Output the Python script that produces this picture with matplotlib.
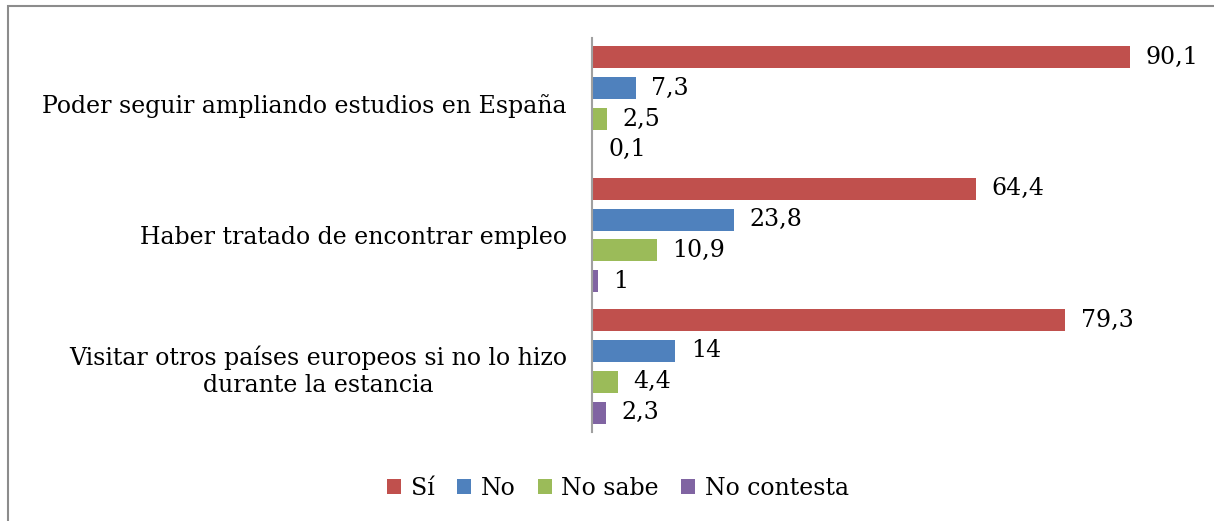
import matplotlib.pyplot as plt
from matplotlib.patches import Rectangle
import numpy as np

# data
categories = ["Poder seguir ampliando estudios en España",
              "Haber tratado de encontrar empleo",
              "Visitar otros países europeos si no lo hizo\ndurante la estancia"]
series = ["Sí", "No", "No sabe", "No contesta"]
si = [90.1, 64.4, 79.3]
no = [7.3, 23.8, 14]
no_sabe = [2.5, 10.9, 4.4]
no_contesta = [0.1, 1, 2.3]
colors = ["#C0504D", "#4F81BD", "#9BBB59", "#8064A2"]

plt.rcParams['font.family'] = ['DejaVu Serif']

fig = plt.figure(figsize=(12.14, 5.21), dpi=100)
ax = fig.add_axes([0.4876, 0.171, 0.4916, 0.756])

values = [si, no, no_sabe, no_contesta]
pitch = 0.235
height = 0.168
y = np.arange(len(categories))

def fmt(v):
    s = "{:g}".format(v)
    return s.replace(".", ",")

for i, (name, vals, c) in enumerate(zip(series, values, colors)):
    pos = y + (i - 1.5) * pitch
    ax.barh(pos, vals, height=height, color=c, label=name)
    for p, v in zip(pos, vals):
        ax.text(v + 2.6, p, fmt(v), va="center", ha="left", fontsize=17)

ax.set_xlim(0, 100)
ax.set_ylim(2.5, -0.5)
ax.set_yticks(y)
ax.set_yticklabels(categories, fontsize=17, multialignment="center",
                   linespacing=1.25)
ax.tick_params(axis="y", length=0, pad=18)
ax.set_xticks([])
for s in ["top", "right", "bottom"]:
    ax.spines[s].set_visible(False)
ax.spines["left"].set_color("#A0A0A0")
ax.spines["left"].set_linewidth(1.5)

fig.legend(loc="center", bbox_to_anchor=(0.509, 0.063), ncol=4, frameon=False,
           fontsize=17, handlelength=0.6, handleheight=0.6, handletextpad=0.4,
           columnspacing=0.95)

# outer border (only left/top visible in the reference)
fig.patches.append(Rectangle((8 / 1214, -0.1), 1.2, 1 - 6 / 521 + 0.1,
                             transform=fig.transFigure, fill=False,
                             edgecolor="#8C8C8C", linewidth=1.5))

fig.savefig("out.png", dpi=100)
